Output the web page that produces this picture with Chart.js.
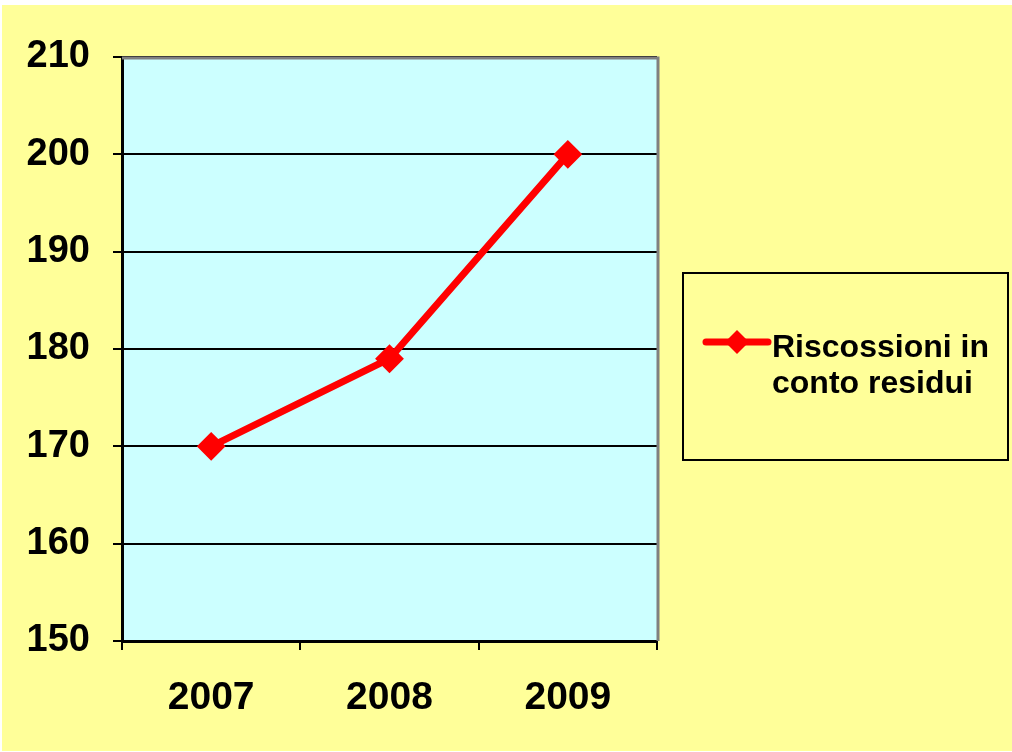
<!DOCTYPE html>
<html>
<head>
<meta charset="utf-8">
<script src="https://cdn.jsdelivr.net/npm/chart.js@4/dist/chart.umd.min.js"></script>
<style>
  html, body { margin: 0; padding: 0; background: #ffffff; }
  #wrap { position: relative; width: 1012px; height: 752px; overflow: hidden; }
  #bg { position: absolute; left: 2px; top: 5px; right: 0; bottom: 1px; background: #ffff99; }
  #chart { position: absolute; left: 0; top: 0; }
  #legend {
    position: absolute; left: 682px; top: 272px; width: 323px; height: 185px;
    border: 2px solid #000; box-sizing: content-box;
    font-family: "Liberation Sans", Arial, sans-serif; font-weight: bold; font-size: 32px;
    line-height: 36px; color: #000;
  }
  #legend .swatch { position: absolute; left: 18px; top: 54px; }
  #legend .text { position: absolute; left: 88px; top: 54px; white-space: nowrap; }
</style>
</head>
<body>
<div id="wrap">
  <div id="bg"></div>
  <canvas id="chart" width="1012" height="752"></canvas>
  <div id="legend">
    <canvas class="swatch" width="70" height="30"></canvas>
    <div class="text"></div>
  </div>
</div>
<script>
const years = ['2007', '2008', '2009'];
const riscossioni = [170, 179, 200];
const seriesName = ['Riscossioni in', 'conto residui'];
const yTicks = [150, 160, 170, 180, 190, 200, 210];

const RED = '#ff0000';
const FONT = '"Liberation Sans", Arial, sans-serif';

// plot area fill plus the grey frame on top and right
const plotFrame = {
  id: 'plotFrame',
  beforeDraw(chart) {
    const { ctx, chartArea: a } = chart;
    ctx.save();
    ctx.fillStyle = '#ccffff';
    ctx.fillRect(a.left, a.top, a.right - a.left, a.bottom - a.top);
    ctx.restore();
  },
  beforeDatasetsDraw(chart) {
    const { ctx, chartArea: a } = chart;
    ctx.save();
    ctx.strokeStyle = '#808080';
    ctx.lineWidth = 3;
    ctx.beginPath();
    ctx.moveTo(a.left, a.top + 1);
    ctx.lineTo(a.right + 1, a.top + 1);
    ctx.lineTo(a.right + 1, a.bottom);
    ctx.stroke();
    ctx.restore();
  }
};

new Chart(document.getElementById('chart'), {
  type: 'line',
  data: {
    labels: years,
    datasets: [{
      label: seriesName.join(' '),
      data: riscossioni,
      borderColor: RED,
      backgroundColor: RED,
      borderWidth: 7,
      pointStyle: 'rectRot',
      pointRadius: 13,
      pointBorderWidth: 2,
      pointBorderColor: RED,
      pointBackgroundColor: RED,
      tension: 0
    }]
  },
  options: {
    responsive: false,
    animation: false,
    layout: { padding: { left: 0, top: 57, right: 355, bottom: 0 } },
    plugins: { legend: { display: false }, tooltip: { enabled: false } },
    scales: {
      x: {
        offset: true,
        grid: { offset: true, drawOnChartArea: false, drawTicks: true, tickLength: 9, color: '#000', lineWidth: 2 },
        border: { color: '#000', width: 3 },
        ticks: { color: '#000', padding: 25, font: { family: FONT, size: 39, weight: 'bold' } },
        afterFit(s) { s.height = 111; }
      },
      y: {
        min: 150,
        max: 210,
        afterBuildTicks(s) { s.ticks = yTicks.map(v => ({ value: v })); },
        grid: { color: '#000', lineWidth: 2, tickLength: 9 },
        border: { color: '#000', width: 3 },
        ticks: { color: '#000', padding: 23, font: { family: FONT, size: 38, weight: 'bold' } },
        afterFit(s) { s.width = 122; }
      }
    }
  },
  plugins: [plotFrame]
});

// legend entry
document.querySelector('#legend .text').innerHTML = seriesName.join('<br>');
const sw = document.querySelector('#legend .swatch').getContext('2d');
sw.strokeStyle = RED;
sw.lineWidth = 7;
sw.lineCap = 'round';
sw.beginPath();
sw.moveTo(4, 14);
sw.lineTo(66, 14);
sw.stroke();
sw.fillStyle = RED;
sw.beginPath();
sw.moveTo(35, 2);
sw.lineTo(47, 14);
sw.lineTo(35, 26);
sw.lineTo(23, 14);
sw.closePath();
sw.fill();
</script>
</body>
</html>
